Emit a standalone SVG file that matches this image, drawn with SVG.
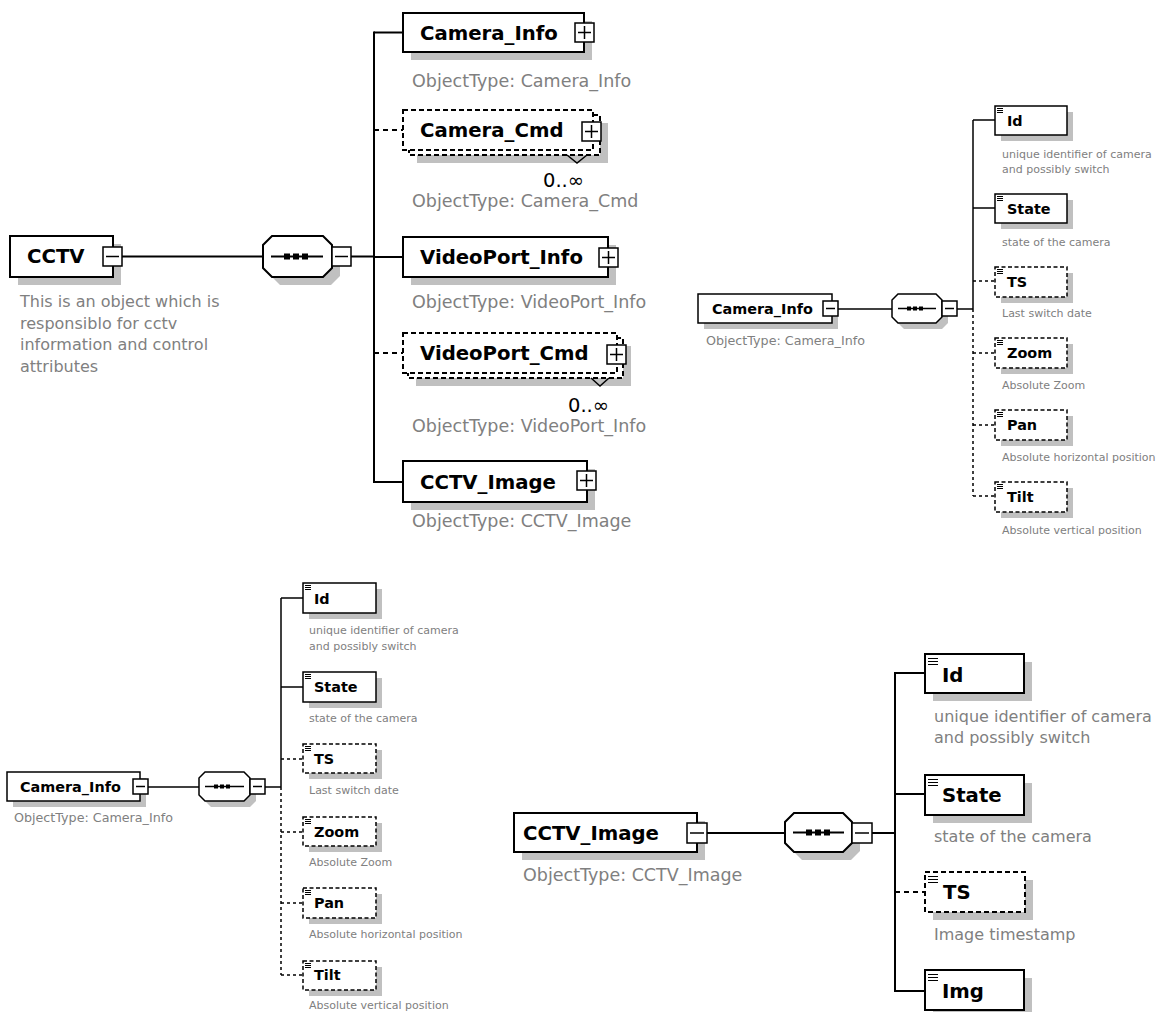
<svg xmlns="http://www.w3.org/2000/svg" width="1171" height="1012" viewBox="0 0 1171 1012">
<style>
.bg{fill:#fff}
.sh{fill:#c0c0c0}
.b{fill:#fff;stroke:#000;stroke-width:2}
.bd{fill:#fff;stroke:#000;stroke-width:2;stroke-dasharray:5 3}
.s{fill:#fff;stroke:#000;stroke-width:1.5}
.sd{fill:#fff;stroke:#000;stroke-width:1.5;stroke-dasharray:4 2.5}
.pm{fill:#fff;stroke:#000;stroke-width:1.5}
.mk{fill:none;stroke:#000;stroke-width:1.5}
.ic{stroke:#000;stroke-width:1.2}
.c{stroke:#000;stroke-width:2;fill:none}
.cd{stroke:#000;stroke-width:2;fill:none;stroke-dasharray:5 4}
.c1{stroke:#000;stroke-width:1.5;fill:none}
.cd1{stroke:#000;stroke-width:1.5;fill:none;stroke-dasharray:3 3}
.t{font-family:"DejaVu Sans","Liberation Sans",sans-serif;font-weight:bold;fill:#000}
.g{font-family:"DejaVu Sans","Liberation Sans",sans-serif;fill:#808080}
.k{font-family:"DejaVu Sans","Liberation Sans",sans-serif;fill:#000}
.T1{font-size:19.7px}
.T2{font-size:14.4px}
.O1{font-size:17.5px}
.D1{font-size:16px}
.O2{font-size:12.7px}
.D2{font-size:11px}
.M{font-size:19.5px}
</style>
<rect class="bg" x="0" y="0" width="1171" height="1012"/>

<g id="connectors">
  <!-- top-left -->
  <line class="c" x1="122" y1="256.5" x2="263" y2="256.5"/>
  <line class="c" x1="351" y1="256.5" x2="374" y2="256.5"/>
  <line class="c" x1="374" y1="31.5" x2="374" y2="483"/>
  <line class="c" x1="374" y1="32.5" x2="403" y2="32.5"/>
  <line class="cd" x1="374" y1="130" x2="403" y2="130"/>
  <line class="c" x1="374" y1="257" x2="403" y2="257"/>
  <line class="cd" x1="374" y1="353" x2="403" y2="353"/>
  <line class="c" x1="374" y1="482" x2="403" y2="482"/>
  <!-- top-right -->
  <line class="c1" x1="838" y1="309" x2="892" y2="309"/>
  <line class="c1" x1="957" y1="309" x2="973" y2="309"/>
  <line class="c1" x1="973" y1="120" x2="973" y2="309"/>
  <line class="cd1" x1="973" y1="309" x2="973" y2="496"/>
  <line class="c1" x1="973" y1="120" x2="995" y2="120"/>
  <line class="c1" x1="973" y1="208" x2="995" y2="208"/>
  <line class="cd1" x1="973" y1="281" x2="995" y2="281"/>
  <line class="cd1" x1="973" y1="353" x2="995" y2="353"/>
  <line class="cd1" x1="973" y1="425" x2="995" y2="425"/>
  <line class="cd1" x1="973" y1="496" x2="995" y2="496"/>
  <!-- bottom-left -->
  <line class="c1" x1="148" y1="787" x2="199" y2="787"/>
  <line class="c1" x1="265" y1="787" x2="281" y2="787"/>
  <line class="c1" x1="281" y1="598" x2="281" y2="787"/>
  <line class="cd1" x1="281" y1="787" x2="281" y2="975"/>
  <line class="c1" x1="281" y1="598" x2="303" y2="598"/>
  <line class="c1" x1="281" y1="687" x2="303" y2="687"/>
  <line class="cd1" x1="281" y1="759" x2="303" y2="759"/>
  <line class="cd1" x1="281" y1="832" x2="303" y2="832"/>
  <line class="cd1" x1="281" y1="903" x2="303" y2="903"/>
  <line class="cd1" x1="281" y1="975" x2="303" y2="975"/>
  <!-- bottom-right -->
  <line class="c" x1="707" y1="833" x2="785" y2="833"/>
  <line class="c" x1="872" y1="833" x2="895" y2="833"/>
  <line class="c" x1="895" y1="672" x2="895" y2="992"/>
  <line class="c" x1="895" y1="673" x2="925" y2="673"/>
  <line class="c" x1="895" y1="794" x2="925" y2="794"/>
  <line class="cd" x1="895" y1="892" x2="925" y2="892"/>
  <line class="c" x1="895" y1="991" x2="925" y2="991"/>
</g>

<!-- ===== TOP-LEFT ===== -->
<g id="n-cctv">
  <rect class="sh" x="18" y="244" width="103" height="41"/>
  <rect class="b" x="10" y="236" width="103" height="41"/>
  <rect class="pm" x="103" y="247" width="19" height="19"/>
  <line class="mk" x1="106" y1="256.5" x2="119" y2="256.5"/>
  <text class="t T1" x="27" y="263">CCTV</text>
  <text class="g D1" x="20" y="307">This is an object which is</text>
  <text class="g D1" x="20" y="329">responsiblo for cctv</text>
  <text class="g D1" x="20" y="350">information and control</text>
  <text class="g D1" x="20" y="372">attributes</text>
</g>
<g id="n-seq1">
  <polygon class="sh" points="280,244 331,244 340,253 340,276 331,285 280,285 271,276 271,253"/>
  <polygon class="b" points="272,236 323,236 332,245 332,268 323,277 272,277 263,268 263,245"/>
  <line class="c" x1="271" y1="256.5" x2="323" y2="256.5"/>
  <rect x="284" y="253.5" width="6" height="6"/><rect x="293" y="253.5" width="6" height="6"/><rect x="302" y="253.5" width="6" height="6"/>
  <rect class="pm" x="332" y="247" width="19" height="19"/>
  <line class="mk" x1="335" y1="256.5" x2="348" y2="256.5"/>
</g>
<g id="n-camera-info">
  <rect class="sh" x="411" y="21" width="181" height="39"/>
  <rect class="b" x="403" y="13" width="181" height="39"/>
  <rect class="pm" x="575" y="23" width="19" height="19"/>
  <path class="mk" d="M578 32.5H591M584.5 26V39"/>
  <text class="t T1" x="420" y="39.5">Camera_Info</text>
  <text class="g O1" x="412" y="87">ObjectType: Camera_Info</text>
</g>
<g id="n-camera-cmd">
  <rect class="sh" x="417" y="123" width="191" height="40"/>
  <rect class="bd" x="409" y="115" width="191" height="40"/>
  <rect class="bd" x="403" y="110" width="190" height="40"/>
  <rect class="pm" x="582" y="122" width="19" height="19"/>
  <path class="mk" d="M585 131.5H598M591.5 125V138"/>
  <polyline class="mk" points="567,155 577,163 587,155"/>
  <text class="t T1" x="420" y="137">Camera_Cmd</text>
  <text class="k M" x="543" y="187">0..∞</text>
  <text class="g O1" x="412" y="207">ObjectType: Camera_Cmd</text>
</g>
<g id="n-videoport-info">
  <rect class="sh" x="411" y="245" width="205" height="40"/>
  <rect class="b" x="403" y="237" width="205" height="40"/>
  <rect class="pm" x="599" y="248" width="19" height="19"/>
  <path class="mk" d="M602 257.5H615M608.5 251V264"/>
  <text class="t T1" x="420" y="264">VideoPort_Info</text>
  <text class="g O1" x="412" y="308">ObjectType: VideoPort_Info</text>
</g>
<g id="n-videoport-cmd">
  <rect class="sh" x="416" y="346" width="215" height="40"/>
  <rect class="bd" x="408" y="338" width="215" height="40"/>
  <rect class="bd" x="403" y="333" width="214" height="40"/>
  <rect class="pm" x="607" y="345" width="19" height="19"/>
  <path class="mk" d="M610 354.5H623M616.5 348V361"/>
  <polyline class="mk" points="591,378 600,386 609,378"/>
  <text class="t T1" x="420" y="360">VideoPort_Cmd</text>
  <text class="k M" x="568" y="412">0..∞</text>
  <text class="g O1" x="412" y="432">ObjectType: VideoPort_Info</text>
</g>
<g id="n-cctv-image">
  <rect class="sh" x="411" y="469" width="184" height="41"/>
  <rect class="b" x="403" y="461" width="184" height="41"/>
  <rect class="pm" x="577" y="471" width="19" height="19"/>
  <path class="mk" d="M580 480.5H593M586.5 474V487"/>
  <text class="t T1" x="420" y="489">CCTV_Image</text>
  <text class="g O1" x="412" y="527">ObjectType: CCTV_Image</text>
</g>

<!-- ===== TOP-RIGHT ===== -->
<g id="n-tr-camera-info">
  <rect class="sh" x="704" y="300" width="134" height="29"/>
  <rect class="s" x="698" y="294" width="134" height="29"/>
  <rect class="pm" x="823" y="301" width="15" height="15"/>
  <line class="mk" x1="826" y1="308.5" x2="835" y2="308.5"/>
  <text class="t T2" x="712" y="314">Camera_Info</text>
  <text class="g O2" x="706" y="345">ObjectType: Camera_Info</text>
</g>
<g id="n-tr-seq">
  <polygon class="sh" points="904,300 942,300 948,306 948,323 942,329 904,329 898,323 898,306"/>
  <polygon class="s" points="898,294 936,294 942,300 942,317 936,323 898,323 892,317 892,300"/>
  <line class="c1" x1="898" y1="308.5" x2="936" y2="308.5"/>
  <rect x="907" y="306.5" width="4" height="4"/><rect x="913" y="306.5" width="4" height="4"/><rect x="919" y="306.5" width="4" height="4"/>
  <rect class="pm" x="942" y="301" width="15" height="15"/>
  <line class="mk" x1="945" y1="308.5" x2="954" y2="308.5"/>
</g>
<g id="n-tr-id">
  <rect class="sh" x="1001" y="112" width="72" height="29"/>
  <rect class="s" x="995" y="106" width="72" height="29"/>
  <path class="ic" d="M997 108.5h6M997 110.5h6M997 112.5h6"/>
  <text class="t T2" x="1007" y="126">Id</text>
  <text class="g D2" x="1002" y="158">unique identifier of camera</text>
  <text class="g D2" x="1002" y="173">and possibly switch</text>
</g>
<g id="n-tr-state">
  <rect class="sh" x="1001" y="200" width="72" height="29"/>
  <rect class="s" x="995" y="194" width="72" height="29"/>
  <path class="ic" d="M997 196.5h6M997 198.5h6M997 200.5h6"/>
  <text class="t T2" x="1007" y="214">State</text>
  <text class="g D2" x="1002" y="246">state of the camera</text>
</g>
<g id="n-tr-ts">
  <rect class="sh" x="1001" y="273" width="72" height="30"/>
  <rect class="sd" x="995" y="267" width="72" height="30"/>
  <path class="ic" d="M997 269.5h6M997 271.5h6M997 273.5h6"/>
  <text class="t T2" x="1007" y="287">TS</text>
  <text class="g D2" x="1002" y="317">Last switch date</text>
</g>
<g id="n-tr-zoom">
  <rect class="sh" x="1001" y="344" width="72" height="30"/>
  <rect class="sd" x="995" y="338" width="72" height="30"/>
  <path class="ic" d="M997 340.5h6M997 342.5h6M997 344.5h6"/>
  <text class="t T2" x="1007" y="358">Zoom</text>
  <text class="g D2" x="1002" y="389">Absolute Zoom</text>
</g>
<g id="n-tr-pan">
  <rect class="sh" x="1001" y="416" width="72" height="30"/>
  <rect class="sd" x="995" y="410" width="72" height="30"/>
  <path class="ic" d="M997 412.5h6M997 414.5h6M997 416.5h6"/>
  <text class="t T2" x="1007" y="430">Pan</text>
  <text class="g D2" x="1002" y="461">Absolute horizontal position</text>
</g>
<g id="n-tr-tilt">
  <rect class="sh" x="1001" y="488" width="72" height="30"/>
  <rect class="sd" x="995" y="482" width="72" height="30"/>
  <path class="ic" d="M997 484.5h6M997 486.5h6M997 488.5h6"/>
  <text class="t T2" x="1007" y="502">Tilt</text>
  <text class="g D2" x="1002" y="534">Absolute vertical position</text>
</g>

<!-- ===== BOTTOM-LEFT ===== -->
<g id="n-bl-camera-info">
  <rect class="sh" x="13" y="778" width="133" height="29"/>
  <rect class="s" x="7" y="772" width="133" height="29"/>
  <rect class="pm" x="133" y="779" width="15" height="15"/>
  <line class="mk" x1="136" y1="786.5" x2="145" y2="786.5"/>
  <text class="t T2" x="20" y="792">Camera_Info</text>
  <text class="g O2" x="14" y="822">ObjectType: Camera_Info</text>
</g>
<g id="n-bl-seq">
  <polygon class="sh" points="211,778 250,778 256,784 256,801 250,807 211,807 205,801 205,784"/>
  <polygon class="s" points="205,772 244,772 250,778 250,795 244,801 205,801 199,795 199,778"/>
  <line class="c1" x1="205" y1="786.5" x2="244" y2="786.5"/>
  <rect x="214" y="784.5" width="4" height="4"/><rect x="220" y="784.5" width="4" height="4"/><rect x="226" y="784.5" width="4" height="4"/>
  <rect class="pm" x="250" y="779" width="15" height="15"/>
  <line class="mk" x1="253" y1="786.5" x2="262" y2="786.5"/>
</g>
<g id="n-bl-id">
  <rect class="sh" x="309" y="589" width="73" height="30"/>
  <rect class="s" x="303" y="583" width="73" height="30"/>
  <path class="ic" d="M305 585.5h6M305 587.5h6M305 589.5h6"/>
  <text class="t T2" x="314" y="604">Id</text>
  <text class="g D2" x="309" y="634">unique identifier of camera</text>
  <text class="g D2" x="309" y="650">and possibly switch</text>
</g>
<g id="n-bl-state">
  <rect class="sh" x="309" y="678" width="73" height="30"/>
  <rect class="s" x="303" y="672" width="73" height="30"/>
  <path class="ic" d="M305 674.5h6M305 676.5h6M305 678.5h6"/>
  <text class="t T2" x="314" y="692">State</text>
  <text class="g D2" x="309" y="722">state of the camera</text>
</g>
<g id="n-bl-ts">
  <rect class="sh" x="309" y="750" width="73" height="29"/>
  <rect class="sd" x="303" y="744" width="73" height="29"/>
  <path class="ic" d="M305 746.5h6M305 748.5h6M305 750.5h6"/>
  <text class="t T2" x="314" y="764">TS</text>
  <text class="g D2" x="309" y="794">Last switch date</text>
</g>
<g id="n-bl-zoom">
  <rect class="sh" x="309" y="823" width="73" height="29"/>
  <rect class="sd" x="303" y="817" width="73" height="29"/>
  <path class="ic" d="M305 819.5h6M305 821.5h6M305 823.5h6"/>
  <text class="t T2" x="314" y="837">Zoom</text>
  <text class="g D2" x="309" y="866">Absolute Zoom</text>
</g>
<g id="n-bl-pan">
  <rect class="sh" x="309" y="894" width="73" height="30"/>
  <rect class="sd" x="303" y="888" width="73" height="30"/>
  <path class="ic" d="M305 890.5h6M305 892.5h6M305 894.5h6"/>
  <text class="t T2" x="314" y="908">Pan</text>
  <text class="g D2" x="309" y="938">Absolute horizontal position</text>
</g>
<g id="n-bl-tilt">
  <rect class="sh" x="309" y="967" width="73" height="29"/>
  <rect class="sd" x="303" y="961" width="73" height="29"/>
  <path class="ic" d="M305 963.5h6M305 965.5h6M305 967.5h6"/>
  <text class="t T2" x="314" y="980">Tilt</text>
  <text class="g D2" x="309" y="1009">Absolute vertical position</text>
</g>

<!-- ===== BOTTOM-RIGHT ===== -->
<g id="n-br-cctv-image">
  <rect class="sh" x="522" y="821" width="183" height="39"/>
  <rect class="b" x="514" y="813" width="183" height="39"/>
  <rect class="pm" x="687" y="823" width="20" height="20"/>
  <line class="mk" x1="690" y1="833" x2="704" y2="833"/>
  <text class="t T1" x="523" y="840">CCTV_Image</text>
  <text class="g O1" x="523" y="881">ObjectType: CCTV_Image</text>
</g>
<g id="n-br-seq">
  <polygon class="sh" points="802,821 851,821 860,830 860,851 851,860 802,860 793,851 793,830"/>
  <polygon class="b" points="794,813 843,813 852,822 852,843 843,852 794,852 785,843 785,822"/>
  <line class="c" x1="793" y1="832.5" x2="844" y2="832.5"/>
  <rect x="806" y="829.5" width="6" height="6"/><rect x="815" y="829.5" width="6" height="6"/><rect x="824" y="829.5" width="6" height="6"/>
  <rect class="pm" x="852" y="823" width="20" height="20"/>
  <line class="mk" x1="855" y1="833" x2="869" y2="833"/>
</g>
<g id="n-br-id">
  <rect class="sh" x="933" y="662" width="99" height="39"/>
  <rect class="b" x="925" y="654" width="99" height="39"/>
  <path class="ic" d="M928 658.5h10M928 661.5h10M928 664.5h10"/>
  <text class="t T1" x="942" y="682">Id</text>
  <text class="g D1" x="934" y="722">unique identifier of camera</text>
  <text class="g D1" x="934" y="743">and possibly switch</text>
</g>
<g id="n-br-state">
  <rect class="sh" x="933" y="783" width="99" height="40"/>
  <rect class="b" x="925" y="775" width="99" height="40"/>
  <path class="ic" d="M928 779.5h10M928 782.5h10M928 785.5h10"/>
  <text class="t T1" x="942" y="802">State</text>
  <text class="g D1" x="934" y="842">state of the camera</text>
</g>
<g id="n-br-ts">
  <rect class="sh" x="933" y="880" width="100" height="40"/>
  <rect class="bd" x="925" y="872" width="100" height="40"/>
  <path class="ic" d="M928 876.5h10M928 879.5h10M928 882.5h10"/>
  <text class="t T1" x="943" y="899">TS</text>
  <text class="g D1" x="934" y="940">Image timestamp</text>
</g>
<g id="n-br-img">
  <rect class="sh" x="933" y="978" width="99" height="40"/>
  <rect class="b" x="925" y="970" width="99" height="40"/>
  <path class="ic" d="M928 974.5h10M928 977.5h10M928 980.5h10"/>
  <text class="t T1" x="942" y="998">Img</text>
</g>
</svg>
